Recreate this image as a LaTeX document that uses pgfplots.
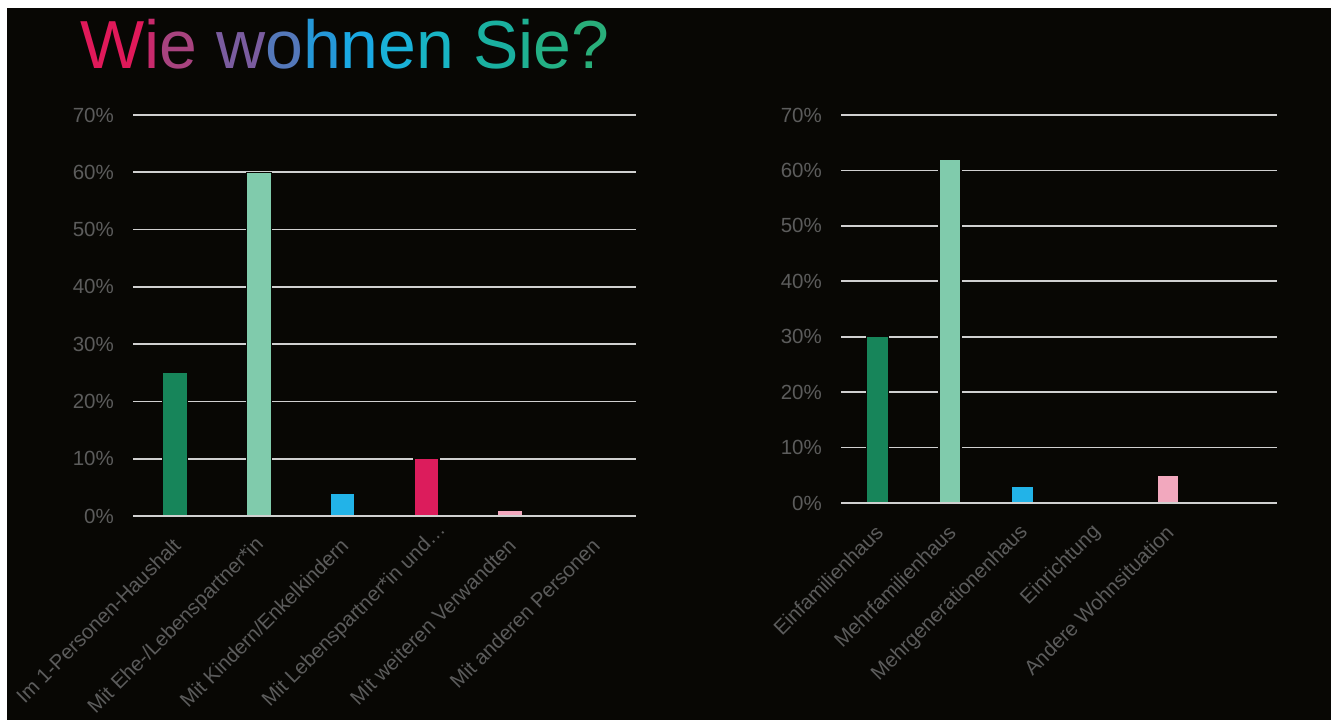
\documentclass[border=0pt]{standalone}
\usepackage{pgfplots}
\pgfplotsset{compat=1.18}
\usepackage{fontspec}
\setmainfont{Liberation Sans}
\definecolor{bgc}{HTML}{080704}
\definecolor{gridc}{HTML}{D0D0D0}
\definecolor{tickc}{HTML}{5C5C5C}
\definecolor{cdg}{HTML}{17855A}
\definecolor{clg}{HTML}{80CBAC}
\definecolor{cbl}{HTML}{22B3E8}
\definecolor{ccr}{HTML}{DC1C5C}
\definecolor{cpk}{HTML}{F2A8BE}
\definecolor{t1}{HTML}{E0195A}
\definecolor{t2}{HTML}{C82A6C}
\definecolor{t3}{HTML}{A8437F}
\definecolor{t4}{HTML}{7A5C9F}
\definecolor{t5}{HTML}{5478BA}
\definecolor{t6}{HTML}{2598D8}
\definecolor{t7}{HTML}{1AA9E4}
\definecolor{t8}{HTML}{19B1D8}
\definecolor{t9}{HTML}{18B4C4}
\definecolor{t10}{HTML}{1AB0A0}
\definecolor{t11}{HTML}{1FB092}
\definecolor{t12}{HTML}{23B085}
\definecolor{t13}{HTML}{29AE7A}
\pgfplotsset{
  mybars/.style={
    scale only axis,
    ymin=0, ymax=70,
    ytick={0,10,...,70},
    xmin=-0.5, xmax=5.5,
    /pgf/number format/assume math mode=true,
    yticklabel={\pgfmathprintnumber{\tick}\%},
    ymajorgrids,
    grid style={gridc, line width=1.6bp},
    axis line style={draw=none},
    major tick length=0pt,
    tick style={draw=none},
    yticklabel style={font=\fontsize{20.5bp}{24bp}\selectfont, text=tickc, inner sep=0pt, xshift=-19bp},
    xticklabel style={font=\fontsize{20.5bp}{24bp}\selectfont, text=tickc, inner sep=0pt, xshift=2bp, yshift=-26bp, rotate=45, anchor=east},
    ybar,
  },
}
\begin{document}
\begin{tikzpicture}
\useasboundingbox (0bp,0bp) rectangle (1331bp,720bp);
\fill[white] (0bp,0bp) rectangle (1331bp,720bp);
\fill[bgc] (7bp,0bp) rectangle (1331bp,712bp);
\node[anchor=base west, inner sep=0pt, font=\fontsize{68bp}{72bp}\selectfont] at (80bp,651bp)
  {{\color{t1}W}{\color{t2}i}{\color{t3}e} {\color{t4}w}{\color{t5}o}{\color{t6}h}{\color{t7}n}{\color{t8}e}{\color{t9}n} {\color{t10}S}{\color{t11}i}{\color{t12}e}{\color{t13}?}};
\begin{axis}[mybars, at={(133bp,204bp)}, anchor=south west, width=503bp, height=401bp,
  bar width=25bp,
  xtick={0,1,2,3,4,5},
  xticklabels={Im 1-Personen-Haushalt, Mit Ehe-/Lebenspartner*in, Mit Kindern/Enkelkindern, Mit Lebenspartner*in und\rlap{…}, Mit weiteren Verwandten, Mit anderen Personen}]
\addplot[fill=cdg, draw=bgc, line width=1.4bp, bar shift=0pt] coordinates {(0,25)};
\addplot[fill=clg, draw=bgc, line width=1.4bp, bar shift=0pt] coordinates {(1,60)};
\addplot[fill=cbl, draw=bgc, line width=1.4bp, bar shift=0pt] coordinates {(2,4)};
\addplot[fill=ccr, draw=bgc, line width=1.4bp, bar shift=0pt] coordinates {(3,10)};
\addplot[fill=cpk, draw=bgc, line width=1.4bp, bar shift=0pt] coordinates {(4,1)};
\addplot[fill=cdg, draw=bgc, line width=1.4bp, bar shift=0pt] coordinates {(5,0)};
\draw[gridc, line width=1.6bp] (axis cs:-0.5,0) -- (axis cs:5.5,0);
\end{axis}
\begin{axis}[mybars, at={(841bp,217bp)}, anchor=south west, width=436bp, height=388bp,
  bar width=22bp,
  xtick={0,1,2,3,4},
  xticklabels={Einfamilienhaus, Mehrfamilienhaus, Mehrgenerationenhaus, Einrichtung, Andere Wohnsituation}]
\addplot[fill=cdg, draw=bgc, line width=1.4bp, bar shift=0pt] coordinates {(0,30)};
\addplot[fill=clg, draw=bgc, line width=1.4bp, bar shift=0pt] coordinates {(1,62)};
\addplot[fill=cbl, draw=bgc, line width=1.4bp, bar shift=0pt] coordinates {(2,3)};
\addplot[fill=cbl, draw=bgc, line width=1.4bp, bar shift=0pt] coordinates {(3,0)};
\addplot[fill=cpk, draw=bgc, line width=1.4bp, bar shift=0pt] coordinates {(4,5)};
\draw[gridc, line width=1.6bp] (axis cs:-0.5,0) -- (axis cs:5.5,0);
\end{axis}
\end{tikzpicture}
\end{document}
